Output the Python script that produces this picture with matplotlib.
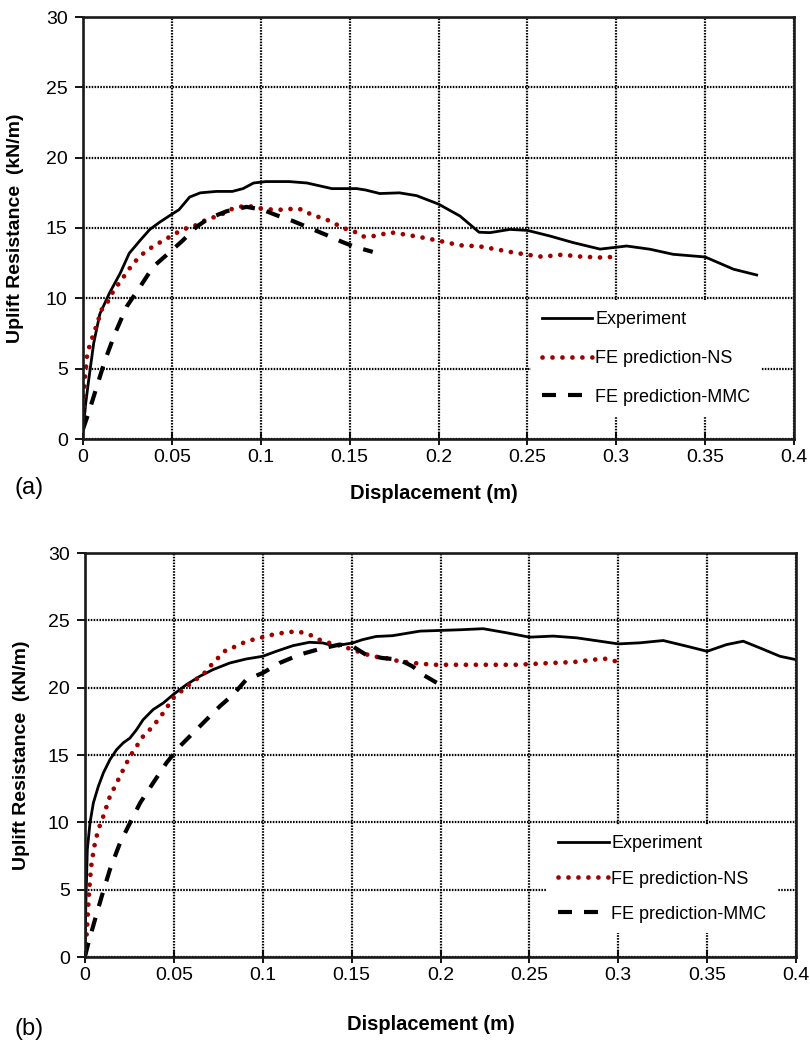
import numpy as np
import matplotlib
matplotlib.use("Agg")
import matplotlib.pyplot as plt

plt.rcParams['font.family'] = ['Liberation Sans', 'DejaVu Sans']

# panel (a)
exp_a_x = [0.0, 0.0015, 0.003, 0.006, 0.0095, 0.015, 0.021, 0.026, 0.032, 0.0376, 0.043, 0.049,
           0.054, 0.06, 0.066, 0.075, 0.084, 0.09, 0.096, 0.103, 0.116, 0.126, 0.14, 0.154, 0.159,
           0.167, 0.178, 0.1877, 0.2, 0.2121, 0.2228, 0.229, 0.2402, 0.25, 0.2627, 0.2758, 0.2909,
           0.3059, 0.319, 0.332, 0.35, 0.366, 0.379]
exp_a_y = [0.5, 2.5, 4.0, 6.8, 8.9, 10.4, 11.8, 13.2, 14.1, 14.9, 15.4, 15.9,
           16.3, 17.2, 17.5, 17.6, 17.6, 17.8, 18.2, 18.3, 18.3, 18.2, 17.8, 17.8, 17.7,
           17.45, 17.5, 17.3, 16.7, 15.85, 14.7, 14.67, 14.9, 14.83, 14.43, 13.96, 13.5,
           13.72, 13.49, 13.13, 12.94, 12.07, 11.66]

ns_a_x = [0.0, 0.001, 0.0024, 0.006, 0.0077, 0.0105, 0.0133, 0.017, 0.0227, 0.0283, 0.034, 0.0395,
          0.045, 0.0506, 0.056, 0.062, 0.0695, 0.077, 0.0845, 0.092, 0.0994, 0.107, 0.1144, 0.119,
          0.1238, 0.129, 0.135, 0.1406, 0.146, 0.152, 0.157, 0.162, 0.167, 0.1725, 0.178, 0.1877,
          0.2, 0.212, 0.2228, 0.2318, 0.2402, 0.25, 0.2582, 0.2694, 0.2807, 0.292, 0.3]
ns_a_y = [0.9, 4.2, 6.1, 7.5, 8.1, 9.2, 9.6, 10.5, 11.5, 12.5, 13.2, 13.7,
          14.1, 14.5, 14.9, 15.1, 15.6, 15.9, 16.4, 16.6, 16.4, 16.3, 16.3, 16.4,
          16.3, 15.9, 15.7, 15.4, 15.0, 14.8, 14.4, 14.4, 14.5, 14.7, 14.6, 14.4,
          14.1, 13.77, 13.7, 13.5, 13.3, 13.1, 12.96, 13.1, 12.96, 12.9, 12.96]

mmc_a_x = [0.0, 0.003, 0.0077, 0.0124, 0.018, 0.0245, 0.032, 0.0395, 0.049, 0.056, 0.064, 0.071,
           0.081, 0.092, 0.101, 0.109, 0.118, 0.1275, 0.137, 0.146, 0.152, 0.163]
mmc_a_y = [0.7, 1.8, 3.7, 5.6, 7.5, 9.4, 10.8, 12.25, 13.3, 14.1, 15.1, 15.7,
           16.2, 16.5, 16.3, 15.9, 15.5, 15.0, 14.5, 14.0, 13.7, 13.3]

# panel (b)
exp_b_x = [0.0, 0.0005, 0.0013, 0.0028, 0.0047, 0.0075, 0.0103, 0.014, 0.0178, 0.0215, 0.0253, 0.029,
           0.0327, 0.0383, 0.044, 0.0496, 0.057, 0.0645, 0.072, 0.0814, 0.0907, 0.1, 0.1076, 0.117,
           0.1263, 0.1338, 0.1394, 0.145, 0.1506, 0.156, 0.1637, 0.173, 0.1885, 0.2, 0.211, 0.224,
           0.237, 0.25, 0.2634, 0.2766, 0.2897, 0.3, 0.3122, 0.3253, 0.3385, 0.35, 0.361, 0.3703,
           0.3797, 0.391, 0.4]
exp_b_y = [0.3, 4.0, 7.97, 9.95, 11.44, 12.67, 13.66, 14.65, 15.4, 15.9, 16.26, 16.88,
           17.62, 18.37, 18.86, 19.48, 20.22, 20.84, 21.34, 21.83, 22.13, 22.33, 22.7, 23.12,
           23.37, 23.32, 23.12, 23.2, 23.32, 23.56, 23.8, 23.86, 24.2, 24.25, 24.3, 24.38,
           24.08, 23.75, 23.83, 23.7, 23.45, 23.25, 23.33, 23.5, 23.08, 22.7, 23.2, 23.45,
           22.95, 22.33, 22.08]

ns_b_x = [0.0, 0.0006, 0.0013, 0.0019, 0.0028, 0.0037, 0.0056, 0.0075, 0.0103, 0.014, 0.0178, 0.0215,
          0.0253, 0.029, 0.0327, 0.0383, 0.044, 0.0496, 0.0552, 0.0608, 0.0664, 0.072, 0.0795,
          0.0851, 0.0907, 0.0982, 0.1057, 0.1132, 0.1197, 0.1263, 0.1319, 0.1375, 0.145, 0.1506,
          0.156, 0.1618, 0.1693, 0.1768, 0.1847, 0.196, 0.2053, 0.224, 0.2429, 0.2616, 0.2747,
          0.286, 0.2935, 0.3]
ns_b_y = [0.2, 1.04, 2.52, 4.0, 5.74, 6.98, 8.47, 9.46, 10.45, 11.93, 12.92, 13.91,
          14.9, 15.64, 16.39, 17.13, 18.12, 19.23, 19.85, 20.47, 20.97, 21.83, 22.82,
          23.07, 23.44, 23.69, 23.94, 24.11, 24.18, 23.94, 23.56, 23.32, 23.07, 22.82,
          22.57, 22.33, 22.2, 21.96, 21.83, 21.7, 21.7, 21.7, 21.7, 21.83, 21.9,
          22.08, 22.15, 21.9]

mmc_b_x = [0.0, 0.0019, 0.0056, 0.0094, 0.014, 0.0197, 0.0253, 0.031, 0.0383, 0.0458, 0.0533, 0.0608,
           0.0683, 0.0758, 0.0833, 0.0907, 0.1, 0.1094, 0.1207, 0.1319, 0.1432, 0.1506, 0.158,
           0.1674, 0.1768, 0.1843, 0.1903, 0.2]
mmc_b_y = [0.05, 1.04, 2.77, 4.5, 6.49, 8.47, 9.95, 11.44, 12.92, 14.41, 15.64, 16.63,
           17.62, 18.61, 19.48, 20.59, 21.09, 21.83, 22.45, 22.87, 23.2, 23.07, 22.45,
           22.2, 22.08, 21.58, 20.95, 20.2]

x_ticks = [0, 0.05, 0.1, 0.15, 0.2, 0.25, 0.3, 0.35, 0.4]
x_tick_labels = ['0', '0.05', '0.1', '0.15', '0.2', '0.25', '0.3', '0.35', '0.4']
y_ticks = [0, 5, 10, 15, 20, 25, 30]
labels = ['Experiment', 'FE prediction-NS', 'FE prediction-MMC']

red = '#A00000'


def draw_panel(ax, exp, ns, mmc, leg_xy, leg_spacing, ylab_x, xlab_xy):
    ax.plot(exp[0], exp[1], color='black', lw=2.0, label=labels[0])
    ax.plot(ns[0], ns[1], color=red, lw=3.4, linestyle=(0, (0.01, 2.1)),
            dash_capstyle='round', label=labels[1])
    ax.plot(mmc[0], mmc[1], color='black', lw=3.0, linestyle=(0, (3.36, 2.88)),
            dash_capstyle='butt', label=labels[2])

    ax.set_xlim(0, 0.4)
    ax.set_ylim(0, 30)
    ax.set_xticks(x_ticks)
    ax.set_xticklabels(x_tick_labels)
    ax.set_yticks(y_ticks)
    # dark dotted grid
    ax.grid(True, color='black', linestyle=(0, (0.7, 0.6)), linewidth=1.6)
    ax.set_axisbelow(True)
    for s in ax.spines.values():
        s.set_linewidth(1.9)
        s.set_color('#1a1a1a')
    ax.tick_params(axis='x', direction='inout', length=9, width=1.3, labelsize=14, pad=3)
    ax.tick_params(axis='y', direction='out', length=6, width=1.3, labelsize=14, pad=5)

    ax.set_ylabel('Uplift Resistance  (kN/m)', fontsize=14, fontweight='bold')
    ax.yaxis.set_label_coords(ylab_x, 0.5)
    ax.set_xlabel('Displacement (m)', fontsize=14.5, fontweight='bold', va='center')
    ax.xaxis.set_label_coords(*xlab_xy)

    leg = ax.legend(loc='center', bbox_to_anchor=leg_xy, fontsize=13,
                    handlelength=2.8, handletextpad=0.15, labelspacing=leg_spacing,
                    borderpad=0.6, frameon=True, fancybox=False, framealpha=1,
                    facecolor='white', edgecolor='none')
    return leg


fig = plt.figure(figsize=(8.1, 10.48), dpi=100)
ax1 = fig.add_axes([83 / 810, 1 - 439 / 1048, 711 / 810, 422 / 1048])
ax2 = fig.add_axes([85 / 810, 1 - 957 / 1048, 711 / 810, 404 / 1048])

draw_panel(ax1, (exp_a_x, exp_a_y), (ns_a_x, ns_a_y), (mmc_a_x, mmc_a_y),
           (0.792, 0.191), 1.2, -0.083, (0.494, -0.128))
draw_panel(ax2, (exp_b_x, exp_b_y), (ns_b_x, ns_b_y), (mmc_b_x, mmc_b_y),
           (0.812, 0.193), 1.0, -0.077, (0.487, -0.166))

fig.text(29 / 810, 1 - 488 / 1048, '(a)', fontsize=17, ha='center', va='center')
fig.text(29 / 810, 1 - 1029 / 1048, '(b)', fontsize=17, ha='center', va='center')

fig.savefig('out.png', dpi=100)
